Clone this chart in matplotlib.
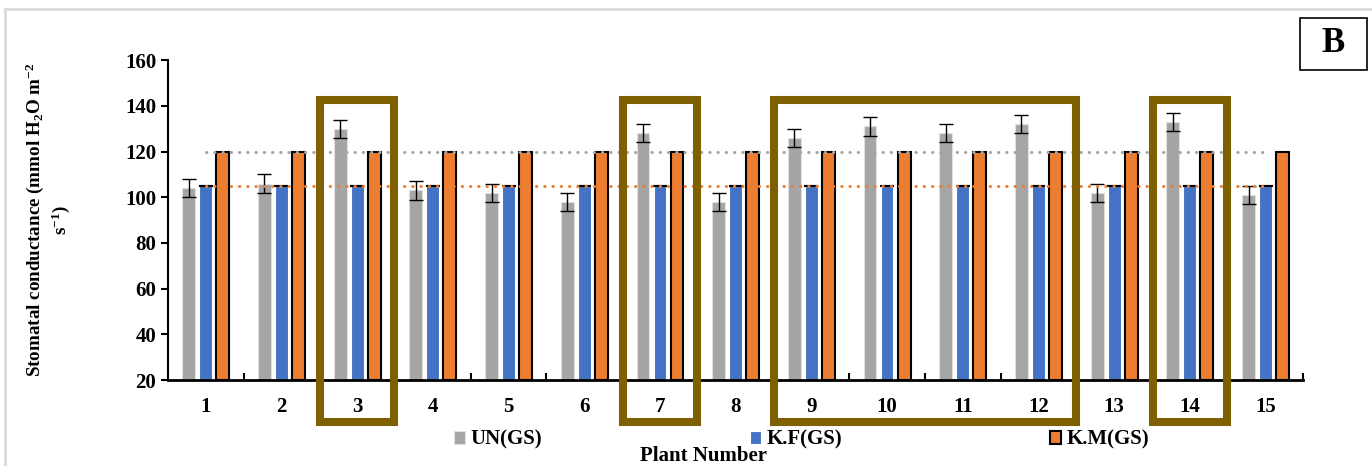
import numpy as np
import matplotlib.pyplot as plt
from matplotlib.patches import Rectangle

plt.rcParams['font.family'] = ['Liberation Serif', 'DejaVu Serif']
plt.rcParams['font.weight'] = 'bold'
plt.rcParams['mathtext.fontset'] = 'custom'
plt.rcParams['mathtext.rm'] = 'Liberation Serif:bold'
plt.rcParams['mathtext.bf'] = 'Liberation Serif:bold'
plt.rcParams['mathtext.default'] = 'bf'

# Data
plants = [str(i) for i in range(1, 16)]
un_gs = [104, 106, 130, 103, 102, 98, 128, 98, 126, 131, 128, 132, 102, 133, 101]
un_err = [4, 4, 4, 4, 4, 4, 4, 4, 4, 4, 4, 4, 4, 4, 4]
kf_gs = [105] * 15
km_gs = [120] * 15
ref_km = 120
ref_kf = 105
highlight_groups = [(3, 3), (7, 7), (9, 12), (14, 14)]

fig = plt.figure(figsize=(13.72, 4.66), dpi=100)
ax = fig.add_axes([0.1224, 0.1845, 0.8276, 0.6865])

x = np.arange(len(plants))
w = 0.17
off = 0.225
base = 20

ax.bar(x - off, np.array(un_gs) - base, w, bottom=base, color='#a5a5a5',
       edgecolor='#e0e0e0', linewidth=0.8, label='UN(GS)', zorder=2)
ax.bar(x, np.array(kf_gs) - base, w, bottom=base, color='#4472c4',
       edgecolor='white', linewidth=0.8, label='K.F(GS)', zorder=2)
ax.bar(x + off, np.array(km_gs) - base, w, bottom=base, color='#ed7d31',
       edgecolor='black', linewidth=1.5, label='K.M(GS)', zorder=2)

ax.errorbar(x - off, un_gs, yerr=un_err, fmt='none', ecolor='black',
            elinewidth=1, capsize=5, capthick=1, zorder=3)
ax.errorbar(x, kf_gs, yerr=0, fmt='none', ecolor='black',
            elinewidth=1, capsize=5, capthick=1.5, zorder=3)

# dotted reference lines
ax.plot([x[0], x[-1]], [ref_km, ref_km], color='#a5a5a5', linestyle=(0, (0.1, 2.6)),
        linewidth=2.2, dash_capstyle='round', zorder=4)
ax.plot([x[0], x[-1]], [ref_kf, ref_kf], color='#ed7d31', linestyle=(0, (0.1, 2.6)),
        linewidth=2.2, dash_capstyle='round', zorder=4)

ax.set_xlim(-0.5, len(plants) - 0.5)
ax.set_ylim(20, 160)
ax.set_yticks(range(20, 161, 20))
ax.set_xticks(x)
ax.set_xticklabels(plants)
ax.set_xticks(np.arange(0.5, len(plants), 1), minor=True)
ax.tick_params(axis='x', which='major', length=0, pad=12, labelsize=15)
ax.tick_params(axis='x', which='minor', direction='in', length=5, width=1.5)
ax.tick_params(axis='y', direction='out', length=5, width=1.5, labelsize=15)
for s in ['top', 'right']:
    ax.spines[s].set_visible(False)
ax.spines['left'].set_linewidth(1.5)
ax.spines['bottom'].set_linewidth(2)

ax.set_ylabel('Stomatal conductance (mmol H$_2$O m$^{-2}$\ns$^{-1}$)',
              fontsize=13.7, fontweight='bold', labelpad=38)
ax.set_xlabel('Plant Number', fontsize=15, fontweight='bold')
ax.xaxis.set_label_coords(0.472, -0.207)

# Highlight boxes around plants of interest
for a, b in highlight_groups:
    r = Rectangle((a - 1 - 0.49, 1.5), (b - a) + 0.98, 141, fill=False,
                  edgecolor='#7f6000', linewidth=5.8, clip_on=False, zorder=5)
    ax.add_patch(r)

leg = ax.legend(loc='center left', bbox_to_anchor=(0.3175, 0.056),
                bbox_transform=fig.transFigure, ncol=3,
                frameon=False, fontsize=15, handlelength=0.53, handleheight=0.53,
                handletextpad=0.24, columnspacing=10.0)

fig.patches.append(Rectangle((0.9475, 0.8498), 0.0488, 0.1116, transform=fig.transFigure,
                             facecolor='white', edgecolor='black', linewidth=1.2))
fig.text(0.9475 + 0.0244, 0.8498 + 0.0558, 'B', fontsize=25, fontweight='bold',
         ha='center', va='center')

fig.patches.append(Rectangle((0.004, -0.01), 1.2, 0.99, transform=fig.transFigure,
                             fill=False, edgecolor='#d9d9d9', linewidth=2))

fig.savefig('out.png', dpi=100)
